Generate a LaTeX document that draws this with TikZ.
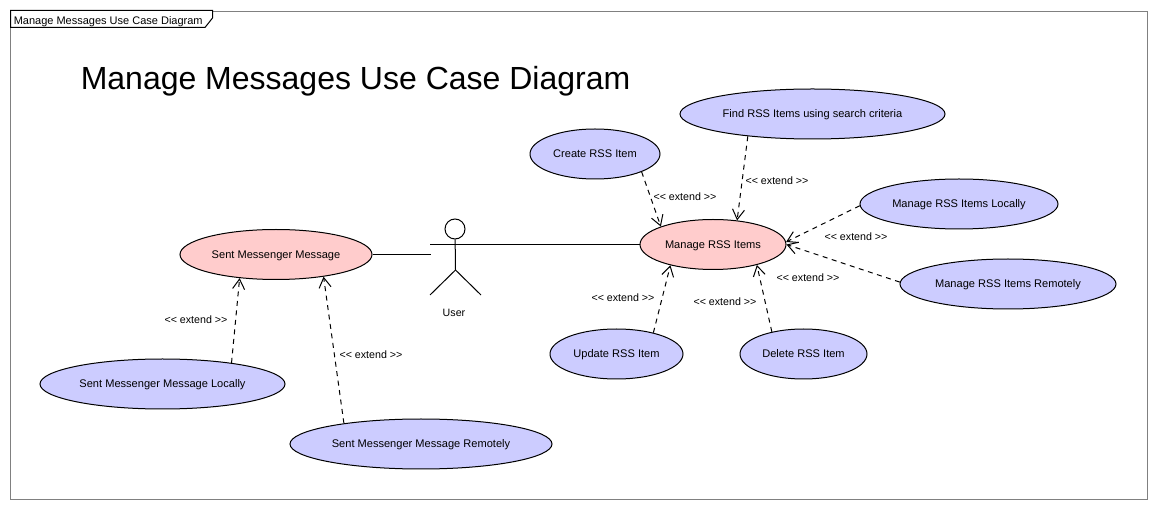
\documentclass[tikz,border=0pt]{standalone}
\usepackage{fontspec}
\setmainfont{Liberation Sans}
\usetikzlibrary{arrows.meta}
\usetikzlibrary{shapes.geometric}
\newcommand{\extendtxt}{<{}< extend >{}>}
\tikzset{
  usecase/.style={draw,ellipse,inner sep=0pt,line width=0.75pt,text height=5.9pt,text depth=0pt,font=\fontsize{8.3}{10}\selectfont},
  bluecase/.style={usecase,fill={rgb,255:red,204;green,204;blue,255}},
  pinkcase/.style={usecase,fill={rgb,255:red,255;green,204;blue,204}},
  txtlabel/.style={inner sep=0.75pt,text height=5.9pt,text depth=0pt,font=\fontsize{8}{10}\selectfont},
  extendline/.style={line width=0.75pt,dash pattern=on 3.75pt off 3.4pt,-{Straight Barb[length=7.5pt,width=9pt,line width=0.75pt]}},
  solidline/.style={line width=0.75pt}
}
\begin{document}
\begin{tikzpicture}[x=0.75pt,y=0.75pt,yscale=-1,xscale=1]
\useasboundingbox (0,0) rectangle (1157,509);
\fill [white] (0,0) rectangle (1157,509);

%Shape: Frame
\draw [color={rgb,255:red,128;green,128;blue,128},line width=0.75pt] (10.5,11.5) rectangle (1147.5,499.5);
%Shape: Tab
\draw [line width=0.75pt,fill=white] (10.5,10.5) -- (212.5,10.5) -- (212.5,18) -- (205,27.5) -- (10.5,27.5) -- cycle;

% Text Node
\node (tabtitle) [txtlabel,anchor=west,font=\fontsize{8.25}{10}\selectfont] at (12.5,21) {Manage Messages Use Case Diagram};
% Text Node
\node (maintitle) [inner sep=0.75pt,anchor=west,font=\fontsize{24}{28}\selectfont] at (79.5,81) {Manage Messages Use Case Diagram};

%Shape: Use Cases
\node (sent) [pinkcase,minimum width=144pt,minimum height=37.5pt] at (276,254.5) {Sent Messenger Message};
\node (sentlocal) [bluecase,minimum width=183.75pt,minimum height=37.5pt] at (162.5,384) {Sent Messenger Message Locally};
\node (sentremote) [bluecase,minimum width=196.5pt,minimum height=37.5pt] at (421,444) {Sent Messenger Message Remotely};
\node (manage) [pinkcase,minimum width=109.5pt,minimum height=37.5pt] at (713,244.5) {Manage RSS Items};
\node (create) [bluecase,minimum width=97.5pt,minimum height=37.5pt] at (595,154) {Create RSS Item};
\node (find) [bluecase,minimum width=198.75pt,minimum height=37.5pt] at (812.5,114) {Find RSS Items using search criteria};
\node (local) [bluecase,minimum width=148.5pt,minimum height=37.5pt] at (959,204) {Manage RSS Items Locally};
\node (remote) [bluecase,minimum width=162pt,minimum height=37.5pt] at (1008,284) {Manage RSS Items Remotely};
\node (update) [bluecase,minimum width=99.75pt,minimum height=37.5pt] at (616.5,354) {Update RSS Item};
\node (delete) [bluecase,minimum width=95.25pt,minimum height=37.5pt] at (803.5,354) {Delete RSS Item};

%Shape: Actor
\node (head) [draw,circle,inner sep=0pt,line width=0.75pt,minimum size=15pt] at (455,229) {};
\coordinate (hip) at (455.5,270);
\coordinate (armleft) at (430,244.5);
\coordinate (footleft) at (430,295);
\coordinate (footright) at (481,295);
\coordinate (assocsent) at (431,254.5);
\draw [solidline] (head) -- (hip);
\draw [solidline] (hip) -- (footleft);
\draw [solidline] (hip) -- (footright);
% Text Node
\node (user) [txtlabel] at (454,313) {User};

%Straight Lines
\draw [solidline] (armleft) -- (manage.west);
\draw [solidline] (sent.east) -- (assocsent);

%Straight Lines
\draw [extendline] (sentlocal.17.9) -- (sent.-147.2);
\draw [extendline] (sentremote.165.3) -- (sent.-25.5);
\draw [extendline] (create.-21.8) -- (manage.161.6);
\draw [extendline] (find.-161.4) -- (manage.45.6);
\draw [extendline] (local.181.7) -- (manage.2.6);
\draw [extendline] (remote.179) -- (manage.-0.8);
\draw [extendline] (update.30.6) -- (manage.-154.7);
\draw [extendline] (delete.145.4) -- (manage.-25.5);

% Text Node
\node (extA) [txtlabel] at (196,320) {\extendtxt};
\node (extB) [txtlabel] at (371,355) {\extendtxt};
\node (extC) [txtlabel] at (685,197) {\extendtxt};
\node (extD) [txtlabel] at (777,181) {\extendtxt};
\node (extE) [txtlabel] at (856,237) {\extendtxt};
\node (extF) [txtlabel] at (808,278) {\extendtxt};
\node (extG) [txtlabel] at (623,298) {\extendtxt};
\node (extH) [txtlabel] at (725,302) {\extendtxt};

\end{tikzpicture}
\end{document}
